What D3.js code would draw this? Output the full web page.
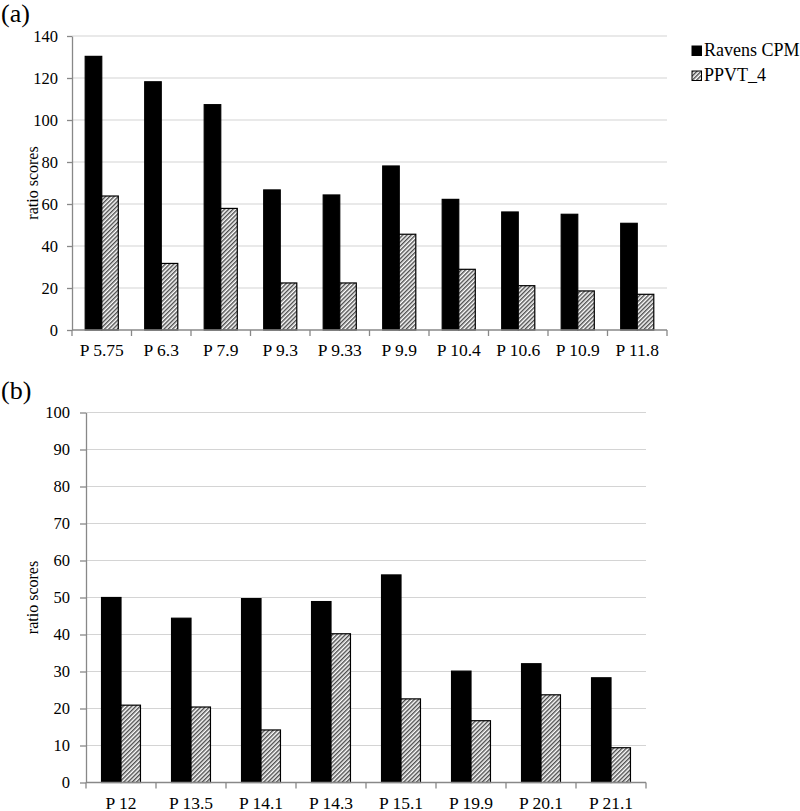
<!DOCTYPE html>
<html>
<head>
<meta charset="utf-8">
<script src="https://cdn.jsdelivr.net/npm/d3@7"></script>
<style>
  body { margin: 0; background: #fff; }
  svg { display: block; font-family: "Liberation Serif", "Times New Roman", serif; }
</style>
</head>
<body>
<svg id="chart" width="800" height="811"></svg>
<script>
// data
const seriesNames = ['Ravens CPM', 'PPVT_4'];

const catsA = ['P 5.75', 'P 6.3', 'P 7.9', 'P 9.3', 'P 9.33', 'P 9.9', 'P 10.4', 'P 10.6', 'P 10.9', 'P 11.8'];
const ravensA = [130.3, 118.2, 107.3, 66.7, 64.3, 78.1, 62.2, 56.2, 55.1, 50.8];
const ppvtA = [63.8, 31.7, 57.9, 22.4, 22.4, 45.6, 28.9, 21.1, 18.6, 17.0];
const ticksA = [0, 20, 40, 60, 80, 100, 120, 140];

const catsB = ['P 12', 'P 13.5', 'P 14.1', 'P 14.3', 'P 15.1', 'P 19.9', 'P 20.1', 'P 21.1'];
const ravensB = [50.0, 44.4, 49.7, 48.9, 56.1, 30.1, 32.1, 28.3];
const ppvtB = [20.9, 20.4, 14.2, 40.2, 22.6, 16.7, 23.7, 9.4];
const ticksB = [0, 10, 20, 30, 40, 50, 60, 70, 80, 90, 100];

const svg = d3.select('#chart');

// hatch pattern for PPVT bars
const defs = svg.append('defs');
const pat = defs.append('pattern')
    .attr('id', 'hatch')
    .attr('patternUnits', 'userSpaceOnUse')
    .attr('width', 3)
    .attr('height', 3)
    .attr('patternTransform', 'rotate(45)');
pat.append('rect').attr('width', 3).attr('height', 3).attr('fill', '#fff');
pat.append('line')
    .attr('x1', 0.75).attr('y1', 0).attr('x2', 0.75).attr('y2', 3)
    .attr('stroke', '#3a3a3a').attr('stroke-width', 1.3);

const fills = ['#000', 'url(#hatch)'];

function panel(opts) {
    const { cats, ravens, ppvt, ticks, yMax, left, right, top, bottom, label, titleY, tickLen, tickPad } = opts;

    const g = svg.append('g');

    const x0 = d3.scaleBand()
        .domain(cats)
        .range([left, right])
        .padding(0);

    const bw = x0.bandwidth();
    const x1 = d3.scaleBand()
        .domain(seriesNames)
        .range([bw * 0.222, bw * 0.778])
        .padding(0);

    const y = d3.scaleLinear()
        .domain([0, yMax])
        .range([bottom, top]);

    // gridlines
    g.append('g')
        .selectAll('line')
        .data(ticks.filter(t => t > 0))
        .join('line')
        .attr('x1', left)
        .attr('x2', right)
        .attr('y1', d => y(d))
        .attr('y2', d => y(d))
        .attr('stroke', '#d4d4d4')
        .attr('stroke-width', 1.2);

    // bars
    const rows = cats.map((c, i) => ({ cat: c, vals: [ravens[i], ppvt[i]] }));
    const grp = g.append('g')
        .selectAll('g')
        .data(rows)
        .join('g')
        .attr('transform', d => `translate(${x0(d.cat)},0)`);

    grp.selectAll('rect')
        .data(d => d.vals.map((v, k) => ({ key: seriesNames[k], v: v, k: k })))
        .join('rect')
        .attr('x', d => x1(d.key))
        .attr('width', x1.bandwidth())
        .attr('y', d => y(d.v))
        .attr('height', d => y(0) - y(d.v))
        .attr('fill', d => fills[d.k])
        .attr('stroke', '#000')
        .attr('stroke-width', 1.2);

    // y axis
    const yAxis = g.append('g')
        .attr('transform', `translate(${left},0)`)
        .call(d3.axisLeft(y).tickValues(ticks).tickSize(tickLen).tickPadding(tickPad).tickSizeOuter(0));
    yAxis.select('.domain').attr('stroke', '#888').attr('stroke-width', 1.3);
    yAxis.selectAll('.tick line').attr('stroke', '#888').attr('stroke-width', 1.3);
    yAxis.selectAll('.tick text')
        .attr('fill', '#000')
        .style('font-size', '16.5px')
        .style('font-family', '"Liberation Serif", serif');

    // x axis: ticks between categories
    const xAxisG = g.append('g');
    xAxisG.append('line')
        .attr('x1', left).attr('x2', right)
        .attr('y1', bottom).attr('y2', bottom)
        .attr('stroke', '#888').attr('stroke-width', 1.3);
    const edges = cats.map(c => x0(c)).concat([right]);
    xAxisG.selectAll('line.tk')
        .data(edges)
        .join('line')
        .attr('class', 'tk')
        .attr('x1', d => d).attr('x2', d => d)
        .attr('y1', bottom).attr('y2', bottom + 6)
        .attr('stroke', '#888').attr('stroke-width', 1.3);
    xAxisG.selectAll('text')
        .data(cats)
        .join('text')
        .attr('x', d => x0(d) + bw / 2)
        .attr('y', bottom + 26)
        .attr('text-anchor', 'middle')
        .style('font-size', '17.5px')
        .text(d => d);

    // y label
    g.append('text')
        .attr('transform', `translate(38,${(top + bottom) / 2}) rotate(-90)`)
        .attr('text-anchor', 'middle')
        .style('font-size', '16px')
        .text('ratio scores');

    // panel letter
    g.append('text')
        .attr('x', 1)
        .attr('y', titleY)
        .style('font-size', '26px')
        .text(label);
}

panel({ cats: catsA, ravens: ravensA, ppvt: ppvtA, ticks: ticksA, yMax: 140,
        left: 72, right: 667, top: 36, bottom: 330, label: '(a)', titleY: 22,
        tickLen: 5, tickPad: 9 });

panel({ cats: catsB, ravens: ravensB, ppvt: ppvtB, ticks: ticksB, yMax: 100,
        left: 86, right: 646, top: 412.5, bottom: 782.5, label: '(b)', titleY: 399,
        tickLen: 6, tickPad: 10 });

// legend
const legend = svg.append('g').attr('transform', 'translate(692,46)');
const li = legend.selectAll('g')
    .data(seriesNames)
    .join('g')
    .attr('transform', (d, i) => `translate(0,${i * 25})`);
li.append('rect')
    .attr('width', 9.5).attr('height', 9.5)
    .attr('fill', (d, i) => fills[i])
    .attr('stroke', '#000').attr('stroke-width', 1);
li.append('text')
    .attr('x', 12)
    .attr('y', 10)
    .style('font-size', '18px')
    .text(d => d);
</script>
</body>
</html>
